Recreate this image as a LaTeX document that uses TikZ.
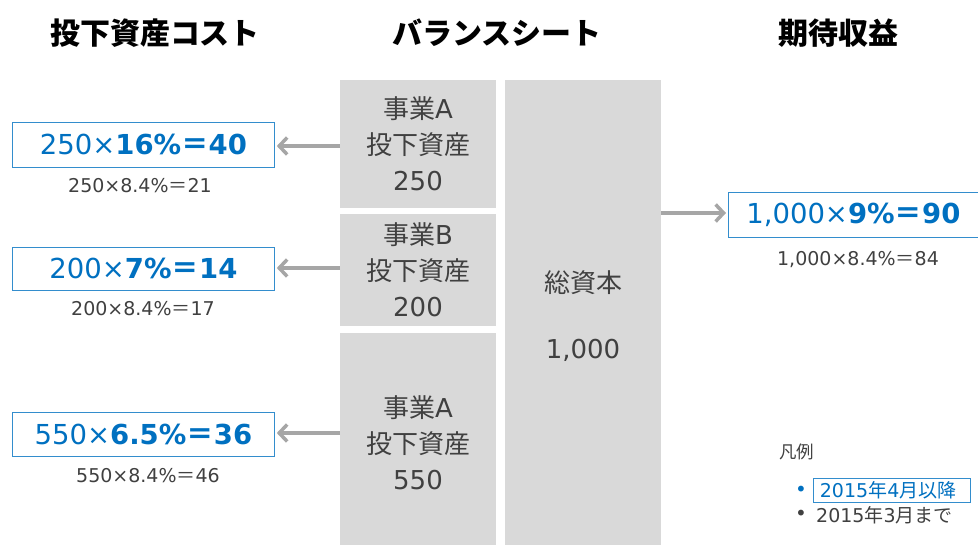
\documentclass[tikz,border=0pt]{standalone}
\usepackage{fontspec}
\setmainfont{DejaVu Sans}
\newfontfamily\jp{Noto Sans CJK JP}
\usetikzlibrary{arrows.meta}
\definecolor{bblue}{HTML}{0070C0}
\definecolor{gtext}{HTML}{404040}
\definecolor{gfill}{HTML}{D9D9D9}
\definecolor{garrow}{HTML}{A6A6A6}
\begin{document}
\begin{tikzpicture}[x=1pt,y=-1pt,
  title/.style={font=\jp\bfseries\fontsize{30}{33}\selectfont, text=black},
  graybox/.style={fill=gfill, draw=none, anchor=north west, inner sep=0pt},
  gtxt/.style={font=\fontsize{26}{36}\selectfont, text=gtext, align=center},
  bluebox/.style={draw=bblue!80, line width=0.8pt, anchor=north west, inner sep=0pt, text=bblue, font=\fontsize{27.5}{30}\selectfont},
  subtxt/.style={font=\fontsize{19}{22}\selectfont, text=gtext},
  arr/.style={draw=garrow, line width=3.5pt, -{Straight Barb[length=8pt,width=17pt,line width=3.5pt]}},
  bul/.style={font=\fontsize{20}{22}\selectfont, inner sep=0pt},
]
\useasboundingbox (0,0) rectangle (978,545);
% titles
\node[title] (t1) at (155,33) {投下資産コスト};
\node[title] (t2) at (497,33) {バランスシート};
\node[title] (t3) at (838,33) {期待収益};
% gray boxes
\node[graybox, minimum width=156pt, minimum height=128pt] (ga) at (340,80) {};
\node[graybox, minimum width=156pt, minimum height=112pt] (gb) at (340,214) {};
\node[graybox, minimum width=156pt, minimum height=212pt] (gc) at (340,333) {};
\node[graybox, minimum width=156pt, minimum height=465pt] (gt) at (505,80) {};
\node[gtxt] (la) at (418,144) {{\jp 事業}A\\{\jp 投下資産}\\250};
\node[gtxt] (lb) at (418,270) {{\jp 事業}B\\{\jp 投下資産}\\200};
\node[gtxt] (lc) at (418,443) {{\jp 事業}A\\{\jp 投下資産}\\550};
\node[gtxt, font=\jp\fontsize{26}{36}\selectfont] (lt1) at (583,283) {総資本};
\node[gtxt] (lt2) at (583,350) {1,000};
% blue boxes
\node[bluebox, minimum width=262pt, minimum height=45pt] (b1) at (12,122) {250×\textbf{16\%{\jp ＝}40}};
\node[bluebox, minimum width=262pt, minimum height=43pt] (b2) at (12,247) {200×\textbf{7\%{\jp ＝}14}};
\node[bluebox, minimum width=262pt, minimum height=44pt] (b3) at (12,412) {550×\textbf{6.5\%{\jp ＝}36}};
\node[bluebox, minimum width=250pt, minimum height=45pt] (b4) at (728,192) {1,000×\textbf{9\%{\jp ＝}90}};
\node[subtxt] (s1) at (140,186) {250×8.4\%{\jp ＝}21};
\node[subtxt] (s2) at (143,309) {200×8.4\%{\jp ＝}17};
\node[subtxt] (s3) at (148,476) {550×8.4\%{\jp ＝}46};
\node[subtxt] (s4) at (858,260) {1,000×8.4\%{\jp ＝}84};
% arrows
\coordinate (a1) at (340,146);
\coordinate (a2) at (340,268);
\coordinate (a3) at (340,433);
\coordinate (a4) at (661,213);
\draw[arr] (a1) -- ([xshift=2pt]b1.east |- a1);
\draw[arr] (a2) -- ([xshift=2pt]b2.east |- a2);
\draw[arr] (a3) -- ([xshift=2pt]b3.east |- a3);
\draw[arr] (a4) -- ([xshift=-2pt]b4.west |- a4);
% legend
\node[subtxt, font=\jp\fontsize{17.5}{20}\selectfont, anchor=west, inner sep=0pt] (lg) at (779,452) {凡例};
\node[bul, text=bblue] (d1) at (801,491) {•};
\node[draw=bblue!80, line width=0.8pt, anchor=north west, text=bblue, font=\fontsize{19}{22}\selectfont, minimum width=157pt, minimum height=24pt, inner sep=0pt, text width=152pt, align=left] (lg1) at (813,478) {\hspace{4pt}2015{\jp 年}4{\jp 月以降}};
\node[bul, text=gtext] (d2) at (801,515) {•};
\node[subtxt, anchor=west, inner sep=0pt] (lg2) at (816,515) {2015{\jp 年}3{\jp 月まで}};
\end{tikzpicture}
\end{document}
